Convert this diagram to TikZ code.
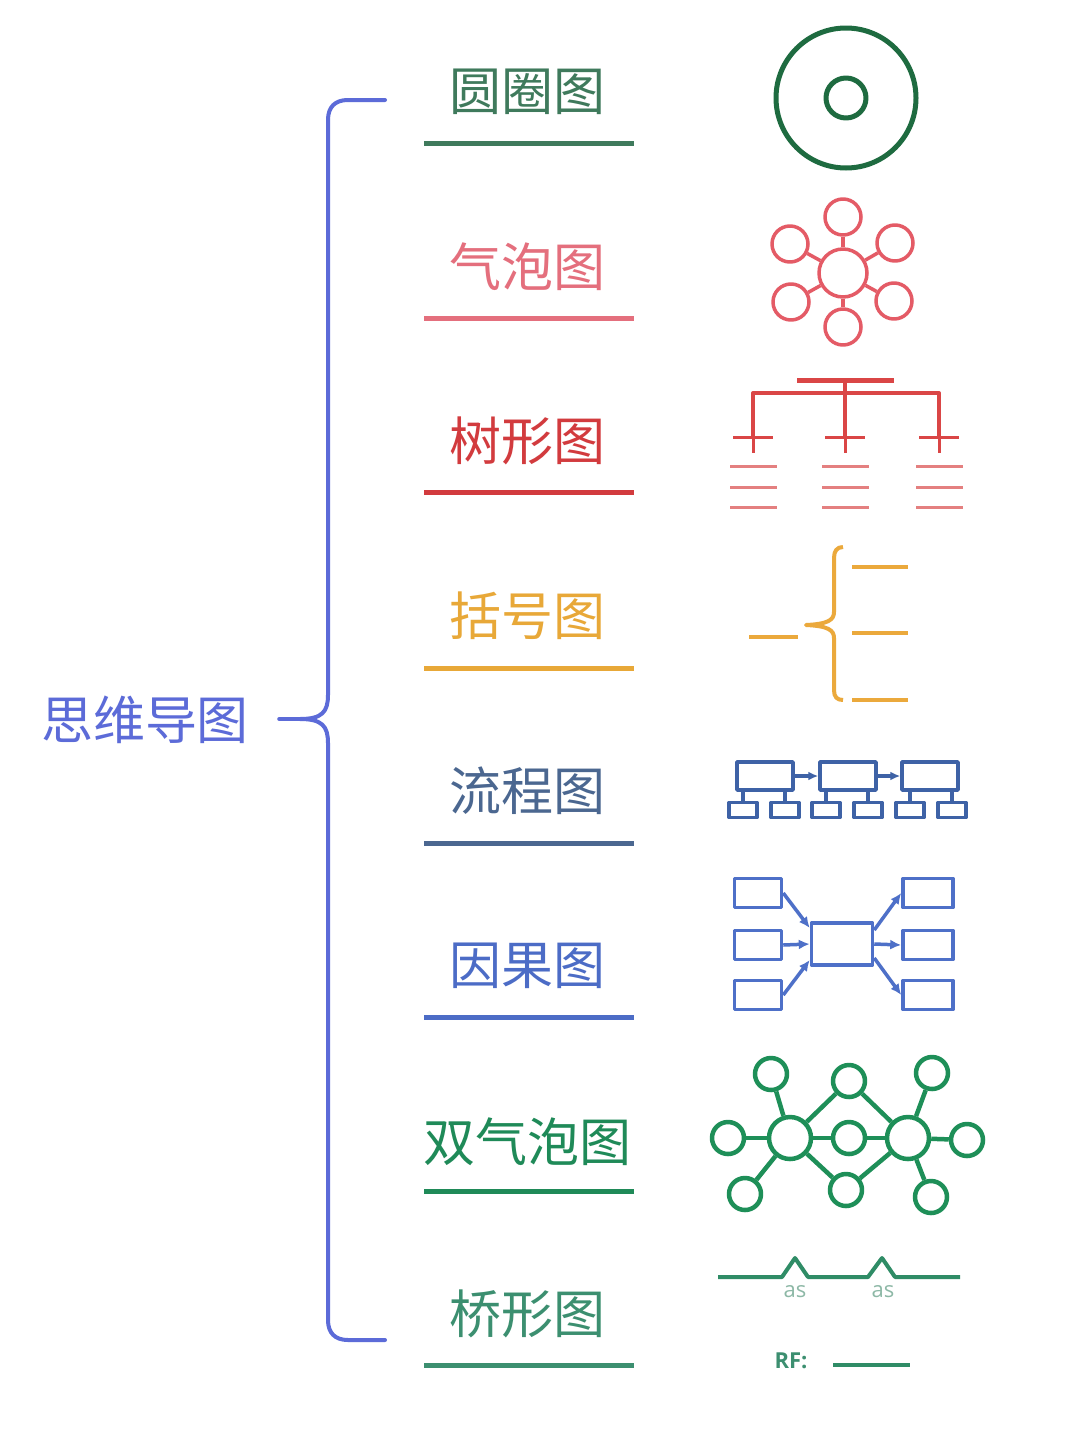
\documentclass[tikz,border=0pt]{standalone}
\usepackage{fontspec}
\setmainfont{Noto Sans CJK SC}
\newfontfamily\iconfont{Open Sans}
\usetikzlibrary{calc,arrows.meta,positioning}
\definecolor{mainblue}{HTML}{5C6BD8}
\definecolor{cOne}{HTML}{3F7A5C}
\definecolor{cTwo}{HTML}{E46F7D}
\definecolor{cThree}{HTML}{D23B3E}
\definecolor{cFour}{HTML}{E8A838}
\definecolor{cFive}{HTML}{4B6790}
\definecolor{cSix}{HTML}{4C6CC6}
\definecolor{cSeven}{HTML}{1F8A58}
\definecolor{cEight}{HTML}{3C8F70}
\definecolor{circicon}{HTML}{1E6B40}
\definecolor{bubicon}{HTML}{E45B66}
\definecolor{treeicon}{HTML}{DA4646}
\definecolor{treelight}{HTML}{E48080}
\definecolor{brackicon}{HTML}{EBA93C}
\definecolor{flowicon}{HTML}{3E62A6}
\definecolor{causeicon}{HTML}{4E70C8}
\definecolor{dbicon}{HTML}{1E8F58}
\definecolor{bridgeicon}{HTML}{2F8C66}
\definecolor{astext}{HTML}{8DB8A6}
\tikzset{
  lbl/.style={font=\fontsize{52pt}{52pt}\selectfont, inner sep=0pt},
  uline/.style={line width=5pt},
  bub/.style={draw, circle, inner sep=0pt, minimum size=#1pt},
  box/.style 2 args={draw, rectangle, inner sep=0pt, minimum width=#1pt, minimum height=#2pt},
}

\begin{document}
\begin{tikzpicture}[x=1pt, y=-1pt, line join=round]
\fill[white] (0,0) rectangle (1080,1435);
\useasboundingbox (0,0) rectangle (1080,1435);

%main label and brace
\node[lbl, text=mainblue] (mind) at (145,720) {思维导图};
\coordinate (tip) at (300,719);
\draw[mainblue, line width=4pt, line cap=round] (385,100) -- (348,100) .. controls (335,100) and (328,107) .. (328,120) -- (328,695) .. controls (328,712) and (322,719) .. (tip)
  .. controls (322,719) and (328,726) .. (328,743) -- (328,1320) .. controls (328,1333) and (335,1340) .. (348,1340) -- (385,1340);
\draw[mainblue, line width=4pt, line cap=round] ($(mind.east)+(30,-1)$) -- (tip);

%labels with underlines
\foreach \i/\txt/\col/\ty/\ly in {1/圆圈图/cOne/92/143, 2/气泡图/cTwo/267/318, 3/树形图/cThree/441/492, 4/括号图/cFour/616/668,
  5/流程图/cFive/791/843, 6/因果图/cSix/966/1017, 7/双气泡图/cSeven/1142/1191, 8/桥形图/cEight/1314/1365}{
  \node[lbl, text=\col] (lab\i) at (527,\ty) {\txt};
  \draw[uline, \col] (424,\ly) -- (634,\ly);
}

%circle map
\node[bub=140, circicon, line width=5pt] (outer) at (846,98) {};
\node[bub=40, circicon, line width=5pt] (inner) at (outer.center) {};

%bubble map
\begin{scope}[bubicon, line width=3.5pt]
\node[bub=48] (bc) at (843,273) {};
\foreach \n/\x/\y in {1/843/217, 2/895/243, 3/894/301, 4/843/327, 5/791/302, 6/790/244}{
  \node[bub=36] (b\n) at (\x,\y) {};
  \draw (bc) -- (b\n);
}
\end{scope}

%tree map
\begin{scope}[treeicon, line width=4pt]
\draw[line width=5pt] (797,380) -- (894,380);
\draw (845,380) -- (845,437);
\draw (753,437) -- (753,393) -- (939,393) -- (939,437);
\foreach \x in {753,845,939}{
  \draw[line width=3pt] (\x-20,437) -- (\x+20,437);
  \draw[line width=3pt] (\x,437) -- (\x,453);
  \foreach \y in {466,487,507}
    \draw[treelight, line width=3pt] (\x-23,\y) -- (\x+24,\y);
}
\end{scope}

%bracket map
\begin{scope}[brackicon, line width=4pt]
\draw (749,637) -- (798,637);
\draw (843,547) .. controls (837,547) and (834,551) .. (834,558) -- (834,612) .. controls (834,620) and (828,624) .. (806,625)
  .. controls (828,626) and (834,630) .. (834,638) -- (834,690) .. controls (834,697) and (837,700) .. (843,700);
\foreach \y in {567,633,700}
  \draw (852,\y) -- (908,\y);
\end{scope}

%flow map
\begin{scope}[flowicon, line width=3.5pt]
\foreach \n/\x in {1/765, 2/848, 3/930}
  \node[box={56}{28}] (fb\n) at (\x,776) {};
\foreach \n/\x in {1/743, 2/785, 3/826, 4/868, 5/910, 6/952}
  \node[box={28}{15}] (sb\n) at (\x,810) {};
\draw[-{Latex[length=10pt,width=9pt]}] (fb1) -- (fb2);
\draw[-{Latex[length=10pt,width=9pt]}] (fb2) -- (fb3);
\foreach \s/\f in {1/1, 2/1, 3/2, 4/2, 5/3, 6/3}
  \draw (sb\s.north) -- (sb\s.north |- fb\f.south);
\end{scope}

%multi-flow map
\begin{scope}[causeicon, line width=3.5pt, >={Latex[length=11pt,width=10pt]}]
\node[box={61}{42}] (cb) at (842,944) {};
\foreach \n/\y in {1/893, 2/945, 3/995}{
  \node[box={47}{29}] (lb\n) at (758,\y) {};
  \node[box={50}{29}] (rb\n) at (928,\y) {};
}
\draw[->] (lb1.east) -- ($(cb.west)+(0,-16)$);
\draw[->] (lb2.east) -- (cb.west);
\draw[->] (lb3.east) -- ($(cb.west)+(0,16)$);
\draw[->] ($(cb.east)+(0,-14)$) -- (rb1.west);
\draw[->] (cb.east) -- (rb2.west);
\draw[->] ($(cb.east)+(0,14)$) -- (rb3.west);
\end{scope}

%double bubble map
\begin{scope}[dbicon, line width=4.5pt]
\node[bub=42] (dl) at (790,1138) {};
\node[bub=42] (dr) at (908,1138) {};
\foreach \n/\x/\y in {t1/771/1074, t2/849/1081, t3/932/1073, s1/728/1138, m/849/1138, s2/967/1140, u1/745/1194, u2/846/1190, u3/931/1197}
  \node[bub=32] (\n) at (\x,\y) {};
\foreach \n in {t1,s1,u1,t2,m,u2}
  \draw (dl) -- (\n);
\foreach \n in {t3,s2,u3,t2,m,u2}
  \draw (dr) -- (\n);
\end{scope}

%bridge map
\begin{scope}[bridgeicon, line width=4pt]
\draw (718,1277) -- (782,1277) -- (795,1258) -- (808,1277) -- (868,1277) -- (882,1258) -- (895,1277) -- (960,1277);
\node[text=astext, font=\iconfont\fontsize{22pt}{22pt}\selectfont, inner sep=0pt] (as1) at (795,1292) {as};
\node[text=astext, font=\iconfont\fontsize{22pt}{22pt}\selectfont, inner sep=0pt] (as2) at (883,1292) {as};
\node[text=cEight, font=\iconfont\bfseries\fontsize{22pt}{22pt}\selectfont, inner sep=0pt] (rf) at (791,1361) {RF:};
\draw (833,1365) -- (910,1365);
\end{scope}
\end{tikzpicture}
\end{document}
